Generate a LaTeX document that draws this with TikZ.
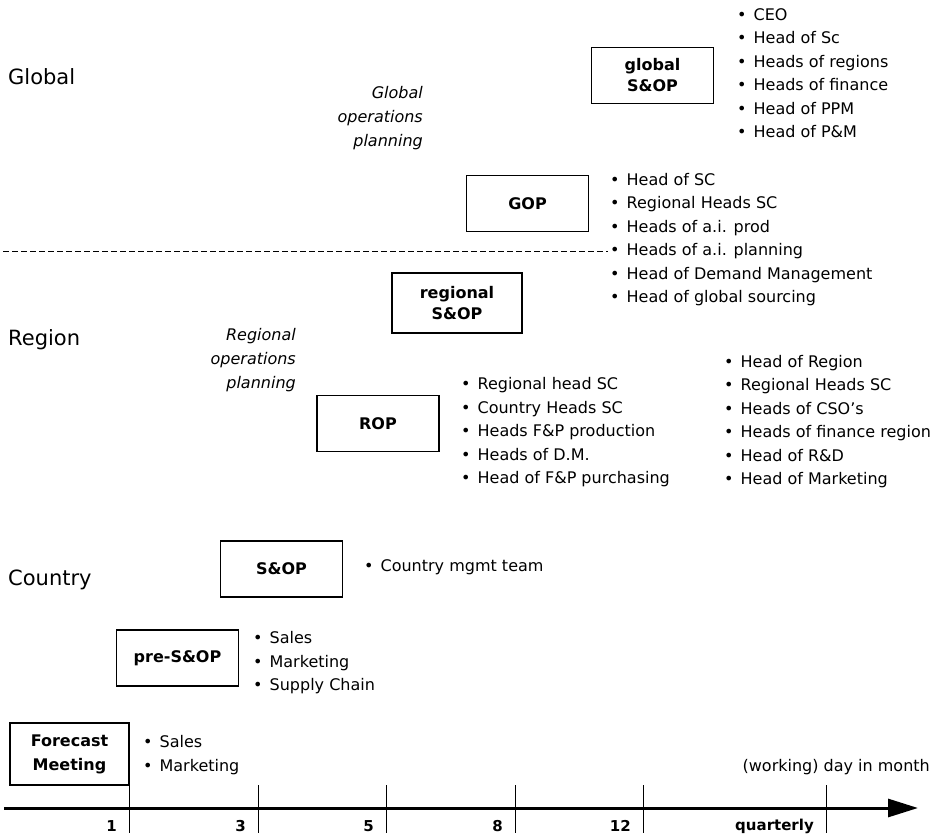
\documentclass[tikz,border=0pt]{standalone}
\usepackage{fontspec}
\setmainfont{DejaVu Sans}
\usetikzlibrary{arrows.meta}

\newcommand{\bul}{\textbullet\hspace{7pt}}

\begin{document}
\begin{tikzpicture}[x=1pt,y=-1pt,
  box/.style={draw,line width=1.2pt,minimum width=122pt,minimum height=56pt,align=center,
    font=\fontsize{16}{21}\selectfont\bfseries},
  lst/.style={anchor=west,align=left,inner sep=0pt,font=\fontsize{16}{23.5}\selectfont},
  lvl/.style={anchor=west,inner sep=0pt,font=\fontsize{21}{24}\selectfont},
  ops/.style={anchor=east,align=right,inner sep=0pt,font=\fontsize{16}{24}\selectfont\itshape},
  daylab/.style={anchor=east,inner sep=0pt,font=\fontsize{15}{18}\selectfont\bfseries},
  tickln/.style={line width=0.8pt}]
  \useasboundingbox (0,0) rectangle (938,837);

  % levels
  \node[lvl] (global) at (8,77) {Global};
  \node[lvl] (region) at (8,340) {Region};
  \node[lvl] (country) at (8,580) {Country};

  \node[ops] (gops) at (423,118) {Global\\operations\\planning};
  \node[ops] (rops) at (296,360) {Regional\\operations\\planning};

  % meetings
  \node[box] (gsop) at (652.5,75.5) {global\\S\&OP};
  \node[box] (gop) at (527.5,203.5) {GOP};
  \node[box,minimum width=130pt,minimum height=60pt] (rsop) at (457,303) {regional\\S\&OP};
  \node[box] (rop) at (378,423.5) {ROP};
  \node[box] (sop) at (281.5,569) {S\&OP};
  \node[box] (presop) at (177.5,658) {pre-S\&OP};
  \node[box,minimum width=119pt,minimum height=62pt,font=\fontsize{16}{24}\selectfont\bfseries] (fcst) at (69.5,754) {Forecast\\Meeting};

  % participants
  \node[lst] (gsoplst) at (737,73) {\bul CEO\\\bul Head of Sc\\\bul Heads of regions\\\bul Heads of finance\\\bul Head of PPM\\\bul Head of P\&M};
  \node[lst] (goplst) at (610,239.5) {\bul Head of SC\\\bul Regional Heads SC\\\bul Heads of a.i. prod\\\bul Heads of a.i. planning\\\bul Head of Demand Management\\\bul Head of global sourcing};
  \node[lst] (roplst) at (461,432.5) {\bul Regional head SC\\\bul Country Heads SC\\\bul Heads F\&P production\\\bul Heads of D.M.\\\bul Head of F\&P purchasing};
  \node[lst] (rsoplst) at (724,421.5) {\bul Head of Region\\\bul Regional Heads SC\\\bul Heads of CSO’s\\\bul Heads of finance region\\\bul Head of R\&D\\\bul Head of Marketing};
  \node[lst] (soplst) at (364,567) {\bul Country mgmt team};
  \node[lst] (presoplst) at (253,663) {\bul Sales\\\bul Marketing\\\bul Supply Chain};
  \node[lst] (fcstlst) at (143,755) {\bul Sales\\\bul Marketing};

  % global / region border
  \coordinate (dl) at (3,251);
  \coordinate (dr) at (608,251);
  \draw[line width=0.9pt,dash pattern=on 6pt off 3pt] (dl) -- (dr);

  % time axis
  \coordinate (a0) at (4,808);
  \coordinate (a1) at (918,808);
  \draw[line width=3pt,-{Triangle[length=30pt,width=18pt]}] (a0) -- (a1);
  \node[anchor=east,inner sep=0pt,font=\fontsize{16}{18}\selectfont] (axlab) at (930,767) {(working) day in month};
  \foreach \x/\d in {129/1,258/3,386/5,515/8,643/12,826/quarterly}{
    \draw[tickln] (\x,785) -- (\x,833);
    \node[daylab] (day\x) at (\x-12,826) {\d};
  }
\end{tikzpicture}
\end{document}
